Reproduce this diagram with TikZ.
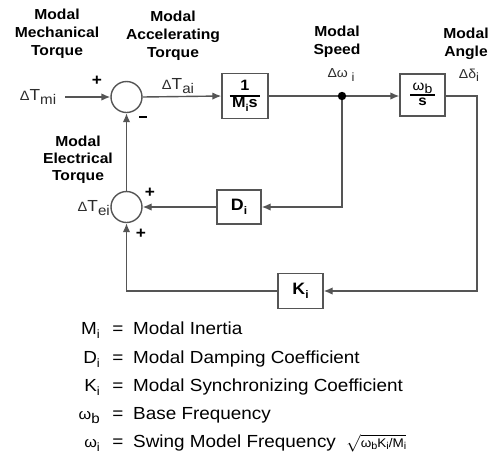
\documentclass[tikz,border=0pt]{standalone}
\usepackage{fontspec}
\setmainfont[FakeStretch=1.08]{Liberation Sans}
\usetikzlibrary{arrows.meta}
\definecolor{ln}{RGB}{85,85,85}
\definecolor{tx}{RGB}{45,45,45}
\newcommand\sbs[2][11]{\raisebox{-0.45ex}{\fontsize{#1}{#1}\selectfont #2}}
\newcommand\dlt[1][13.5]{{\fontsize{#1}{#1}\selectfont Δ}}
\tikzset{
  sum/.style={circle, draw=ln, line width=1.4pt, minimum size=31pt, inner sep=0pt, fill=white},
  blk/.style={draw=ln, line width=1.4pt, inner sep=0pt, fill=white, text=black},
  conn/.style={draw=ln, line width=1.4pt},
  arr/.style={conn, -{Latex[length=9pt,width=7.5pt]}},
  title/.style={align=center, font=\fontsize{14.5}{18}\selectfont\bfseries, text=black, inner sep=0pt},
  lbl/.style={text=tx, inner sep=0pt, font=\fontsize{16}{16}\selectfont},
  sml/.style={text=tx, inner sep=0pt, font=\fontsize{13}{13}\selectfont},
  sgn/.style={text=black, inner sep=0pt, font=\fontsize{16}{16}\selectfont\bfseries},
  leg/.style={text=black, inner sep=0pt, font=\fontsize{17.5}{17.5}\selectfont, anchor=base west},
  legs/.style={text=black, inner sep=0pt, font=\fontsize{17.5}{17.5}\selectfont, anchor=base east},
  legq/.style={text=black, inner sep=0pt, font=\fontsize{17.5}{17.5}\selectfont, anchor=base},
}
\begin{document}
\begin{tikzpicture}[x=1pt,y=-1pt]
\useasboundingbox[fill=white] (0,0) rectangle (491,456);
% titles
\node[title] (tmech) at (57,34) {Modal\\Mechanical\\Torque};
\node[title] (tacc) at (173,36) {Modal\\Accelerating\\Torque};
\node[title] (tspd) at (337,42) {Modal\\Speed};
\node[title] (tang) at (466,44) {Modal\\Angle};
\node[title, font=\fontsize{14.5}{17}\selectfont\bfseries] (telec) at (78,160) {Modal\\Electrical\\Torque};
% blocks
\node[sum] (s1) at (126.5,97) {};
\node[sum] (s2) at (126.5,207) {};
\node[blk, minimum width=46pt, minimum height=45pt] (b1) at (245,96)
  {\fontsize{15}{15}\selectfont\bfseries\setlength{\arrayrulewidth}{1.3pt}\renewcommand{\arraystretch}{1.05}%
   \begin{tabular}{@{\,}c@{\,}}1\\\hline M\sbs[10]{i}s\end{tabular}};
\node[blk, minimum width=45pt, minimum height=42pt] (b2) at (422.5,95)
  {\fontsize{14}{14}\selectfont\setlength{\arrayrulewidth}{1.3pt}\renewcommand{\arraystretch}{1.0}%
   \begin{tabular}{@{\,}c@{\,}}ω\sbs[13]{b}\\\hline \textbf{s}\end{tabular}};
\node[blk, minimum width=44pt, minimum height=34pt] (D) at (239,207)
  {\fontsize{16.5}{16.5}\selectfont\bfseries D\sbs[11]{i}};
\node[blk, minimum width=45pt, minimum height=35pt] (K) at (300.5,291)
  {\fontsize{16.5}{16.5}\selectfont\bfseries K\sbs[11]{i}};
\coordinate (in) at (65,97);
\coordinate (dot) at (342,96);
\coordinate (c1) at (477,96);
\coordinate (c2) at (477,291);
% connectors
\draw[arr] (in) -- (s1.west);
\draw[arr] (s1.east) -- (b1.west);
\draw[conn] (b1.east) -- (dot);
\draw[arr] (dot) -- (b2.west |- dot);
\draw[arr] (b2.east |- dot) -- (c1) -- (c2) -- (K.east);
\draw[arr] (K.west) -| (s2.south);
\draw[arr] (dot) |- (D.east);
\draw[arr] (D.west) -- (s2.east);
\draw[arr] (s2.north) -- (s1.south);
\fill[black] (dot) circle (4.2pt);
% signal labels
\node[lbl] (lmi) at (38,97) {\dlt T\sbs[14]{mi}};
\node[lbl] (lai) at (178,86) {\dlt T\sbs[14]{ai}};
\node[lbl, anchor=east] (lei) at (110,208) {\dlt T\sbs[14]{ei}};
\node[sml] (lw) at (341,75) {Δω\sbs[12]{ i}};
\node[sml] (ld) at (469,75) {Δδ\sbs[12]{i}};
% signs
\node[sgn] (p1) at (97,81) {+};
\node[sgn] (m1) at (143,117) {\rule{8pt}{1.6pt}};
\node[sgn] (p2) at (150,193) {+};
\node[sgn] (p3) at (141,234) {+};
% legend
\node[legs] (sM) at (100,334) {M\sbs[12]{i}};
\node[legq] (qM) at (118,334) {=};
\node[leg] (lM) at (133,334) {Modal Inertia};
\node[legs] (sD) at (100,363) {D\sbs[12]{i}};
\node[legq] (qD) at (118,363) {=};
\node[leg] (lD) at (133,363) {Modal Damping Coefficient};
\node[legs] (sK) at (100,391) {K\sbs[12]{i}};
\node[legq] (qK) at (118,391) {=};
\node[leg] (lK) at (133,391) {Modal Synchronizing Coefficient};
\node[legs] (sb) at (100,419) {{\fontsize{15}{15}\selectfont ω}\sbs[14]{b}};
\node[legq] (qb) at (118,419) {=};
\node[leg] (lb) at (133,419) {Base Frequency};
\node[legs] (si) at (100,447) {{\fontsize{15}{15}\selectfont ω}\sbs[12]{i}};
\node[legq] (qi) at (118,447) {=};
\node[leg] (li) at (133,447) {Swing Model Frequency\ \ $\sqrt{\hbox{\fontsize{12.5}{12.5}\selectfont ω\sbs[10]{b}K\sbs[10]{i}/M\sbs[10]{i}}}$};
\end{tikzpicture}
\end{document}
